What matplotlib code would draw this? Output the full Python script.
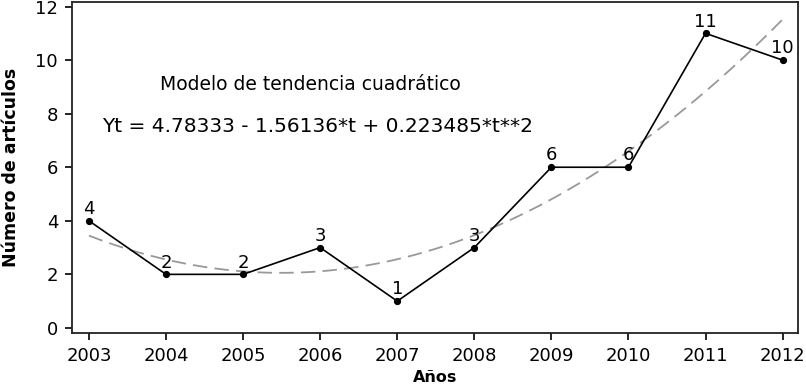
import numpy as np
import matplotlib
matplotlib.use("Agg")
import matplotlib.pyplot as plt

years = [2003, 2004, 2005, 2006, 2007, 2008, 2009, 2010, 2011, 2012]
articles = [4, 2, 2, 3, 1, 3, 6, 6, 11, 10]
# quadratic trend model coefficients shown in the chart
b0, b1, b2 = 4.78333, -1.56136, 0.223485
yticks = [0, 2, 4, 6, 8, 10, 12]

fig = plt.figure(figsize=(8.06, 3.86), dpi=100)
ax = fig.add_axes([72/806, 1 - 333/386, (798-72)/806, (333-2)/386])

t = np.linspace(1, len(years), 200)
trend = b0 + b1 * t + b2 * t**2
ax.plot(years[0] + t - 1, trend, color="#999999", lw=1.3, dashes=(8, 4))
ax.plot(years, articles, color="black", lw=1.2, marker="o", ms=4.2)

for x, y in zip(years, articles):
    ax.annotate(str(y), (x, y), xytext=(0, 2), textcoords="offset points",
                ha="center", va="bottom", fontsize=13)

fig.text(310/806, 1 - 85/386, "Modelo de tendencia cuadrático",
         ha="center", va="center", fontsize=13.5)
fig.text(102/806, 1 - 127/386, "Yt = 4.78333 - 1.56136*t + 0.223485*t**2",
         ha="left", va="center", fontsize=14.5)

ax.set_xlim(2002.78, 2012.2)
ax.set_ylim(-0.19, 12.17)
ax.set_xticks(years)
ax.set_yticks(yticks)
ax.tick_params(labelsize=13, length=5, width=1.2, direction="out", pad=5)
for s in ax.spines.values():
    s.set_linewidth(1.3)
    s.set_color("#222222")

fig.text(11/806, 1 - 167/386, "Número de artículos", rotation=90,
         ha="center", va="center", fontsize=12.5, fontweight="bold")
fig.text(435/806, 1 - 377/386, "Años", ha="center", va="center",
         fontsize=11.5, fontweight="bold")

fig.savefig("out.png", dpi=100)
